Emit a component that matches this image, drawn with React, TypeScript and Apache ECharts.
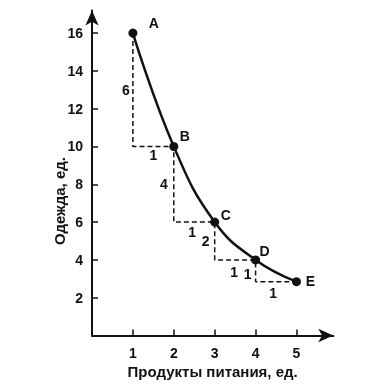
import React, { useEffect, useRef } from 'react';
import * as echarts from 'echarts';

const pointNames = ['A', 'B', 'C', 'D', 'E'];
const food = [1, 2, 3, 4, 5];
const clothing = [16, 10, 6, 4, 2.85];
const stepDy = ['6', '4', '2', '1'];
const stepDx = ['1', '1', '1', '1'];
const xTicks = [1, 2, 3, 4, 5];
const yTicks = [2, 4, 6, 8, 10, 12, 14, 16];
const xName = 'Продукты питания, ед.';
const yName = 'Одежда, ед.';

const nameOffsets = [[21, -10], [11, -10], [11, -7], [9, -9], [14, -1]];
const dyOffsets = [[-7, 0], [-10, 0], [-9, 0], [-8, 3]];
const dxOffsets = [[0, 9], [-2, 10], [-1, 12], [-3, 11]];

const INK = '#111';
const FONT = '"Liberation Sans", Arial, sans-serif';

export default function App() {
  const ref = useRef<HTMLDivElement>(null);
  useEffect(() => {
    if (!ref.current) return;
    const chart = echarts.init(ref.current, null, { renderer: 'svg' });
    const curve = food.map((x, i) => [x, clothing[i]]);
    const steps: number[][] = [];
    for (let i = 0; i < food.length - 1; i++) {
      steps.push([food[i], clothing[i]]);
      steps.push([food[i], clothing[i + 1]]);
      steps.push([food[i + 1], clothing[i + 1]]);
    }
    const dyLabels = stepDy.map((t, i) => ({
      value: [food[i], (clothing[i] + clothing[i + 1]) / 2],
      label: { formatter: t, offset: dyOffsets[i] },
    }));
    const dxLabels = stepDx.map((t, i) => ({
      value: [(food[i] + food[i + 1]) / 2, clothing[i + 1]],
      label: { formatter: t, offset: dxOffsets[i] },
    }));
    const labelStyle = {
      show: true,
      position: 'inside',
      color: INK,
      fontSize: 14,
      fontWeight: 'bold',
      fontFamily: FONT,
    };
    chart.setOption({
      animation: false,
      grid: { left: 92, top: 10.4, width: 241.3, height: 325.1, containLabel: false },
      xAxis: {
        type: 'value',
        min: 0,
        max: 5.9,
        name: xName,
        nameLocation: 'middle',
        nameGap: 28,
        nameTextStyle: { color: INK, fontSize: 15, fontWeight: 'bold', fontFamily: FONT },
        axisLine: { show: true, symbol: ['none', 'arrow'], symbolSize: [10, 15], lineStyle: { color: INK, width: 2 } },
        axisTick: { show: true, inside: true, length: 6, customValues: xTicks, lineStyle: { color: INK, width: 1.5 } },
        axisLabel: { customValues: xTicks, color: INK, fontSize: 14, fontWeight: 'bold', fontFamily: FONT, margin: 10 },
        splitLine: { show: false },
      },
      yAxis: {
        type: 'value',
        min: 0,
        max: 17.2,
        axisLine: { show: true, symbol: ['none', 'arrow'], symbolSize: [10, 15], lineStyle: { color: INK, width: 2 } },
        axisTick: { show: true, inside: true, length: 6, customValues: yTicks, lineStyle: { color: INK, width: 1.5 } },
        axisLabel: { customValues: yTicks, color: INK, fontSize: 14, fontWeight: 'bold', fontFamily: FONT, margin: 9 },
        splitLine: { show: false },
      },
      graphic: [
        {
          type: 'text',
          x: 59,
          y: 201,
          rotation: Math.PI / 2,
          style: { text: yName, fill: INK, fontSize: 15, fontWeight: 'bold', fontFamily: FONT, align: 'center', verticalAlign: 'middle' },
        },
      ],
      series: [
        {
          type: 'line',
          data: steps,
          showSymbol: false,
          lineStyle: { color: INK, width: 1.5, type: [5, 3] },
          z: 1,
        },
        {
          type: 'line',
          data: curve,
          smooth: 0.45,
          symbol: 'circle',
          symbolSize: 9,
          itemStyle: { color: INK },
          lineStyle: { color: INK, width: 2.5 },
          z: 3,
        },
        {
          type: 'scatter',
          symbolSize: 0,
          itemStyle: { color: INK, opacity: 1 },
          data: pointNames.map((n, i) => ({ value: [food[i], clothing[i]], label: { formatter: n, offset: nameOffsets[i] } })),
          label: labelStyle,
          z: 4,
        },
        {
          type: 'scatter',
          symbolSize: 0,
          itemStyle: { color: INK, opacity: 1 },
          data: [...dyLabels, ...dxLabels],
          label: labelStyle,
          z: 4,
        },
      ],
    });
    return () => chart.dispose();
  }, []);
  return <div ref={ref} style={{ position: 'fixed', left: 0, top: 0, width: 386, height: 387 }} />;
}
